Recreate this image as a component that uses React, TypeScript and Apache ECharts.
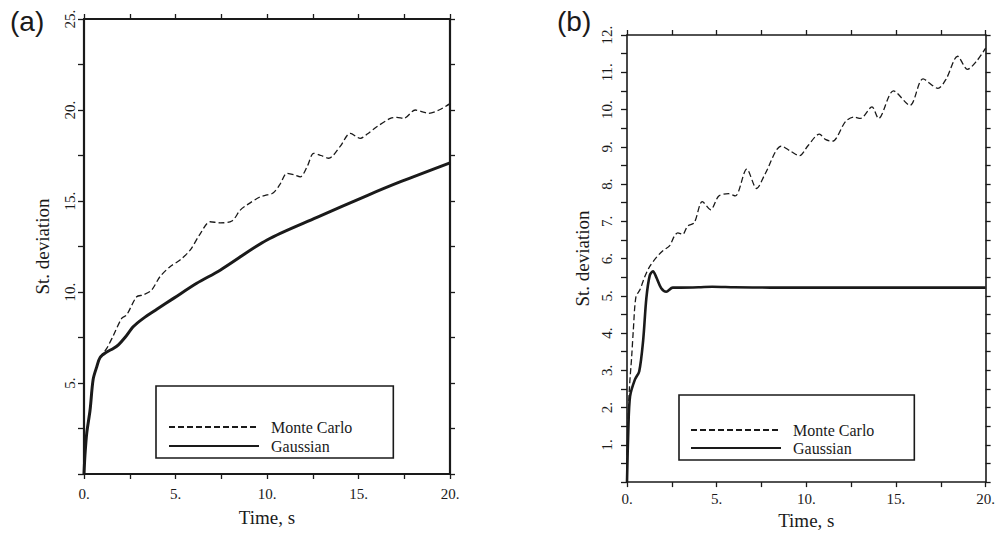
import React, { useEffect, useRef } from "react";
import * as echarts from "echarts";

// Panel (a)
const tA_gauss = [0, 0.05, 0.15, 0.33, 0.5, 0.7, 0.88, 1.24, 1.6, 1.88, 2.24, 2.7, 3.24, 3.98, 4.89, 6.16, 7.44, 10.0, 12.73, 15.47, 17.3, 20];
const vA_gauss = [0, 1.0, 2.25, 3.5, 5.2, 5.9, 6.4, 6.7, 6.9, 7.1, 7.5, 8.1, 8.55, 9.05, 9.65, 10.48, 11.2, 12.86, 14.1, 15.3, 16.06, 17.1];
const tA_mc = [0, 0.05, 0.15, 0.33, 0.5, 0.88, 1.24, 1.6, 2.06, 2.33, 2.88, 3.24, 3.69, 4.15, 4.7, 5.25, 5.8, 6.35, 6.89, 7.44, 8.08, 8.54, 8.9, 9.63, 10.0, 10.35, 10.7, 11.09, 11.45, 11.82, 12.2, 12.55, 12.95, 13.37, 14.0, 14.55, 15.1, 15.5, 16.0, 16.74, 17.1, 17.47, 18.1, 18.5, 18.84, 19.4, 20];
const vA_mc = [0, 1.0, 2.25, 3.5, 5.2, 6.4, 6.9, 7.6, 8.55, 8.74, 9.74, 9.84, 10.1, 10.84, 11.39, 11.76, 12.3, 13.2, 13.86, 13.8, 13.9, 14.5, 14.78, 15.23, 15.33, 15.45, 15.9, 16.52, 16.45, 16.33, 16.9, 17.62, 17.5, 17.35, 18.0, 18.72, 18.44, 18.7, 19.08, 19.54, 19.6, 19.54, 20.0, 19.9, 19.82, 20.0, 20.35];

// Panel (b)
const tB_gauss = [0, 0.07, 0.17, 0.44, 0.68, 0.9, 1.08, 1.27, 1.45, 1.63, 1.91, 2.19, 2.55, 3.0, 4.0, 4.76, 6.0, 8.0, 12.0, 16.0, 20];
const vB_gauss = [0, 1.34, 2.3, 2.75, 2.97, 3.8, 4.94, 5.55, 5.66, 5.5, 5.2, 5.11, 5.22, 5.22, 5.23, 5.245, 5.23, 5.22, 5.22, 5.22, 5.22];
const tB_mc = [0, 0.02, 0.13, 0.26, 0.35, 0.5, 0.72, 0.99, 1.27, 1.64, 2.0, 2.37, 2.64, 2.83, 3.1, 3.38, 3.75, 4.2, 4.66, 5.12, 5.67, 6.04, 6.68, 7.23, 7.7, 8.61, 9.16, 9.62, 10.08, 10.73, 11.09, 11.46, 12.19, 12.65, 13.02, 13.66, 14.03, 14.86, 15.78, 16.51, 17.34, 17.8, 18.44, 18.99, 19.5, 20];
const vB_mc = [0, 0.9, 2.48, 3.36, 4.06, 4.98, 5.16, 5.51, 5.79, 6.03, 6.21, 6.34, 6.6, 6.69, 6.65, 6.87, 6.96, 7.53, 7.31, 7.68, 7.74, 7.68, 8.4, 7.88, 8.27, 9.02, 8.87, 8.76, 9.02, 9.34, 9.19, 9.15, 9.68, 9.8, 9.76, 10.07, 9.76, 10.5, 10.11, 10.82, 10.57, 10.82, 11.43, 11.08, 11.3, 11.65];

const seriesNames = ["Monte Carlo", "Gaussian"];
const panelLabels = ["(a)", "(b)"];
const xName = "Time, s";
const yName = "St. deviation";

const zip = (t: number[], v: number[]) => t.map((x, i) => [x, v[i]]);
const SERIF = "Liberation Serif";
const INK = "#1a1a1a";

export default function App() {
  const ref = useRef<HTMLDivElement>(null);
  useEffect(() => {
    if (!ref.current) return;
    const chart = echarts.init(ref.current, undefined, { renderer: "svg" });

    const xLab = (v: number) => (v % 5 === 0 ? v + "." : "");
    const yLabA = (v: number) => (v % 5 === 0 && v !== 0 ? v + "." : "");
    const yLabB = (v: number) => (Number.isInteger(v) && v !== 0 ? v + "." : "");

    const mkX = (grid: number, lw: number, margin: number, gap: number) => [
      {
        type: "value", gridIndex: grid, min: 0, max: 20, interval: 2.5, position: "bottom",
        name: xName, nameLocation: "middle", nameGap: gap,
        nameTextStyle: { fontFamily: SERIF, fontSize: 19, color: INK },
        axisLine: { show: true, onZero: false, lineStyle: { color: INK, width: lw } },
        axisTick: { show: true, inside: false, length: 5, lineStyle: { color: INK, width: 1.3 } },
        axisLabel: { formatter: xLab, margin, fontFamily: SERIF, fontSize: 15, color: INK, showMinLabel: true, showMaxLabel: true },
        splitLine: { show: false },
      },
      {
        type: "value", gridIndex: grid, min: 0, max: 20, interval: 2.5, position: "top",
        axisLine: { show: true, onZero: false, lineStyle: { color: INK, width: lw } },
        axisTick: { show: true, inside: false, length: 5, lineStyle: { color: INK, width: 1.3 } },
        axisLabel: { show: false },
        splitLine: { show: false },
      },
    ];
    const mkY = (grid: number, max: number, interval: number, fmt: any, lw: number, margin: number, gap: number) => [
      {
        type: "value", gridIndex: grid, min: 0, max, interval, position: "left",
        name: yName, nameLocation: "middle", nameGap: gap, nameRotate: 90,
        nameTextStyle: { fontFamily: SERIF, fontSize: 19, color: INK },
        axisLine: { show: true, onZero: false, lineStyle: { color: INK, width: lw } },
        axisTick: { show: true, inside: false, length: 6, lineStyle: { color: INK, width: 1.3 } },
        axisLabel: { formatter: fmt, rotate: 90, margin, fontFamily: SERIF, fontSize: 15, color: INK, showMinLabel: true, showMaxLabel: true },
        splitLine: { show: false },
      },
      {
        type: "value", gridIndex: grid, min: 0, max, interval, position: "right",
        axisLine: { show: true, onZero: false, lineStyle: { color: INK, width: lw } },
        axisTick: { show: true, inside: false, length: 5, lineStyle: { color: INK, width: 1.3 } },
        axisLabel: { show: false },
        splitLine: { show: false },
      },
    ];

    const legendCommon = {
      orient: "vertical",
      data: seriesNames,
      itemWidth: 90,
      borderColor: INK,
      borderWidth: 1.6,
      borderRadius: 0,
      selectedMode: false,
      itemStyle: { opacity: 0, borderWidth: 0 },
      textStyle: { fontFamily: SERIF, fontSize: 16, color: INK, padding: [0, 0, 0, 7] },
    };

    chart.setOption({
      animation: false,
      backgroundColor: "#ffffff",
      grid: [
        { left: 84, top: 19, width: 366, height: 455 },
        { left: 627, top: 35, width: 363, height: 456 },
      ],
      xAxis: [...mkX(0, 2.2, 12, 34), ...mkX(1, 1.6, 9, 27)],
      yAxis: [...mkY(0, 25, 2.5, yLabA, 2.2, 7, 32), ...mkY(1, 12, 0.5, yLabB, 1.6, 13, 35)],
      legend: [
        { ...legendCommon, id: "legA", left: 156, top: 386, itemHeight: 14, itemGap: 3, padding: [33, 41, 4, 12] },
        { ...legendCommon, id: "legB", left: 679, top: 395, itemHeight: 12, itemGap: 2, padding: [27, 40, 4, 11] },
      ],
      graphic: [
        { type: "text", left: 10, top: 7, style: { text: panelLabels[0], fontFamily: "Liberation Sans", fontSize: 28, fill: INK } },
        { type: "text", left: 557, top: 7, style: { text: panelLabels[1], fontFamily: "Liberation Sans", fontSize: 28, fill: INK } },
      ],
      series: [
        { name: seriesNames[0], type: "line", xAxisIndex: 0, yAxisIndex: 0, data: zip(tA_mc, vA_mc), smooth: 0.3, showSymbol: false, symbol: "none", lineStyle: { color: INK, width: 1.3, type: [6, 3] }, itemStyle: { color: INK } },
        { name: seriesNames[1], type: "line", xAxisIndex: 0, yAxisIndex: 0, data: zip(tA_gauss, vA_gauss), smooth: 0.3, showSymbol: false, symbol: "none", lineStyle: { color: INK, width: 3 }, itemStyle: { color: INK } },
        { name: seriesNames[0], type: "line", xAxisIndex: 2, yAxisIndex: 2, data: zip(tB_mc, vB_mc), smooth: 0.3, showSymbol: false, symbol: "none", lineStyle: { color: INK, width: 1.3, type: [6, 3] }, itemStyle: { color: INK } },
        { name: seriesNames[1], type: "line", xAxisIndex: 2, yAxisIndex: 2, data: zip(tB_gauss, vB_gauss), smooth: 0.3, showSymbol: false, symbol: "none", lineStyle: { color: INK, width: 2.6 }, itemStyle: { color: INK } },
      ],
    });
    return () => chart.dispose();
  }, []);
  return <div ref={ref} style={{ position: "fixed", left: 0, top: 0, width: 998, height: 535 }} />;
}
